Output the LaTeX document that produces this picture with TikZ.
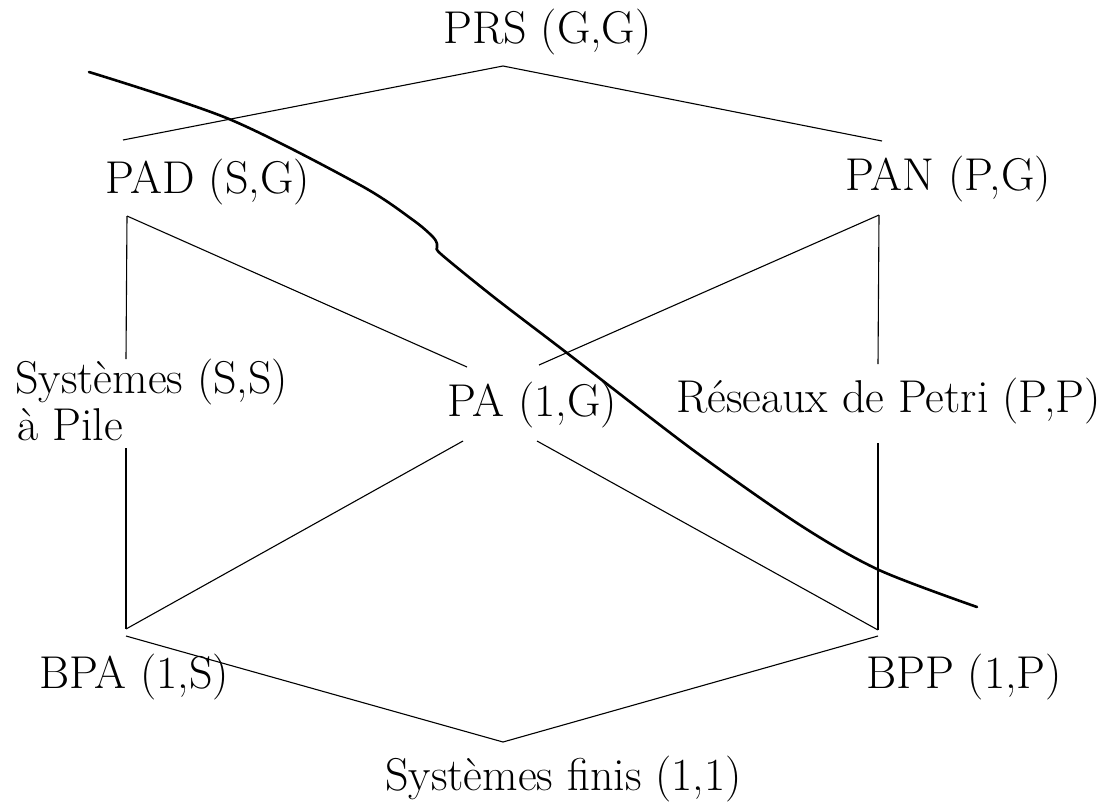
\documentclass[tikz,border=0pt]{standalone}
\usepackage{fontspec}
\begin{document}
\begin{tikzpicture}[x=1pt,y=-1pt,
  lbl/.style={anchor=base west,inner sep=0pt,font=\fontsize{46}{52}\selectfont},
  edge/.style={line width=1.1pt},
  cut/.style={line width=2.6pt,line cap=round,line join=round}]
\useasboundingbox (0,0) rectangle (1115,806);
% labels
\node[lbl] (prs) at (443,43) {PRS (G,G)};
\node[lbl] (pad) at (105,193) {PAD (S,G)};
\node[lbl] (pan) at (845,190) {PAN (P,G)};
\node[lbl] (ss) at (15,393) {Systèmes (S,S)};
\node[lbl] (pile) at (17,440) {à Pile};
\node[lbl] (pa) at (447,416) {PA (1,G)};
\node[lbl] (rp) at (676,412) {Réseaux de Petri (P,P)};
\node[lbl] (bpa) at (39,688) {BPA (1,S)};
\node[lbl] (bpp) at (866,688) {BPP (1,P)};
\node[lbl] (fin) at (385,790) {Systèmes finis (1,1)};
% connector end points
\coordinate (prsB) at (503,66);
\coordinate (padT) at (123,140);
\coordinate (panT) at (882,141);
\coordinate (padB) at (127,216);
\coordinate (panB) at (879,215);
\coordinate (ssT) at (126,359);
\coordinate (ssB) at (126,448);
\coordinate (rpT) at (878,364);
\coordinate (rpB) at (878,443);
\coordinate (paTL) at (467,367);
\coordinate (paTR) at (539,365);
\coordinate (paBL) at (463,441);
\coordinate (paBR) at (537,441);
\coordinate (bpaT) at (126,629);
\coordinate (bppT) at (878,630);
\coordinate (bpaB) at (126,636);
\coordinate (bppB) at (878,636);
\coordinate (finT) at (503,742);
% connectors
\draw[edge] (padT) -- (prsB) -- (panT);
\draw[edge] (padB) -- (ssT);
\draw[edge] (padB) -- (paTL);
\draw[edge] (panB) -- (paTR);
\draw[edge] (panB) -- (rpT);
\draw[edge] (ssB) -- (bpaT);
\draw[edge] (rpB) -- (bppT);
\draw[edge] (paBL) -- (bpaT);
\draw[edge] (paBR) -- (bppT);
\draw[edge] (bpaB) -- (finT) -- (bppB);
% cut curve
\draw[cut] plot[smooth,tension=0.5] coordinates {(89,72) (229,119) (360,185) (413,220) (433,237) (437,244)}
  -- (437,248)
  plot[smooth,tension=0.5] coordinates {(437,248) (442,255) (495,298) (567,353) (693,450) (800,525) (879,570) (977,607)};
\end{tikzpicture}
\end{document}
